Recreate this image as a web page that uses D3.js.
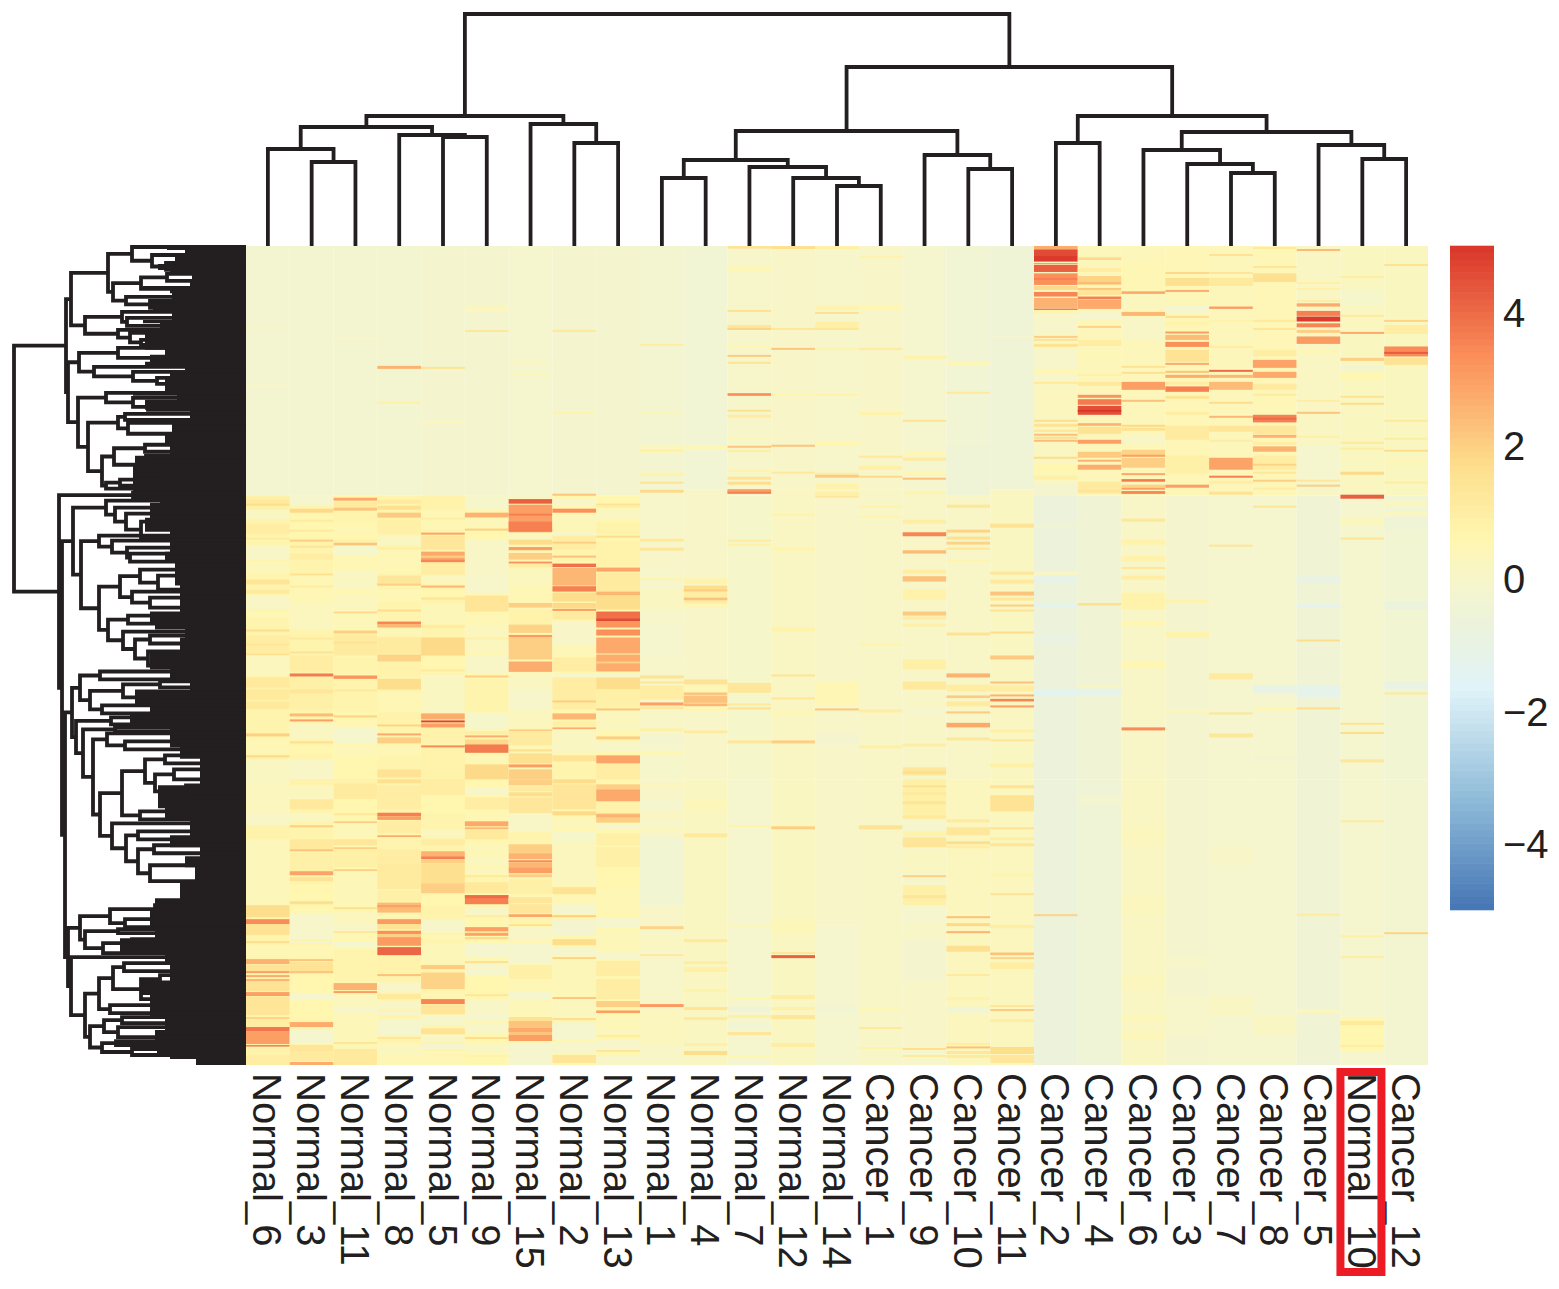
<!DOCTYPE html>
<html>
<head>
<meta charset="utf-8">
<script src="https://cdn.jsdelivr.net/npm/d3@7"></script>
<style>
body { margin: 0; background: #fff; }
text { font-family: "Liberation Sans", Arial, sans-serif; fill: #231f20; }
</style>
</head>
<body>
<svg id="chart" width="1559" height="1289"></svg>
<script>
const samples = ['Normal_6','Normal_3','Normal_11','Normal_8','Normal_5','Normal_9','Normal_15','Normal_2','Normal_13','Normal_1','Normal_4','Normal_7','Normal_12','Normal_14','Cancer_1','Cancer_9','Cancer_10','Cancer_11','Cancer_2','Cancer_4','Cancer_6','Cancer_3','Cancer_7','Cancer_8','Cancer_5','Normal_10','Cancer_12'];
const colorStops = [-5,-3.33,-1.67,-.7,0,.6,1.67,3.33,5];
const colorRange = ['#4575b4','#8fbbd9','#e0f3f8','#ecf3dc','#f7f6ca','#fff6b0','#fddf8e','#fb8f5a','#d9352a'];
const legendTicks = [-4,-2,0,2,4];
const rowCount = 410;
const highlighted = 'Normal_10';

// heat values per sample: [first row, last row, value], later bands paint over earlier ones
const n6 = [[0,125,-.25],[41,42,.1],[69,70,.1],[125,410,.7],[125,137,.9],[127,129.5,1.2],[129,130,1.7],[132,137,.2],[139,144,1],[146,147,1.1],[150,157,.1],[158,164,.4],[167,169.5,1.4],[172,174,1.2],[175,182,.1],[183,186,.5],[192,193,1.7],[195,204,1],[199,200,1.4],[204,205,1.6],[205,215,.3],[216,232,1.2],[221,222,.8],[227,228,.8],[232,242,.7],[244,245.5,2],[246,254,.5],[255,256,1.8],[257,268,.2],[268,290,.3],[284,290,.1],[290,297,.8],[297,330,.35],[330,336,1.7],[337,339.5,3.4],[339.5,345,1.5],[348,349,1.7],[350,356,.5],[357,359.5,2.6],[360,363,1.5],[363,364,3],[365,366,2.8],[367,368,2.6],[368,373,1.5],[373.5,375.5,3],[376,385,1.4],[386,387,1.9],[387,391,1],[391,393,3.8],[393,399.5,3],[400,400.8,3.6],[401,405,.8],[405,410,1]];
const n3 = [[0,125,-.25],[125,410,.7],[125,130,-.1],[131.5,133.5,1.8],[134,146,.6],[137,138,1.1],[142,143,1.1],[147,148,2],[150,151,1.4],[154,157,1],[164,165,1.6],[165,179,.5],[170,171,1],[179,192,.3],[192,202,.7],[196,197,1.2],[203,204,1.5],[205,213,1],[214,215.5,3.7],[216,232,.9],[222,224,1.3],[234,235.5,2.4],[237,238,3],[239,247,.2],[248,249,1.6],[250,254,.6],[257,267,.1],[267,270,.8],[270,277,.3],[277,282,1.2],[284,288,.2],[290,291,2],[292,297,.7],[297,302,1.2],[302,303,2.3],[304,313,.9],[313,315,2.9],[316,318,1.5],[320,328,.6],[328,329.5,1.6],[330,334,.6],[334,347,0],[348,349,-.2],[350,356,.5],[357,358,2.2],[358.5,364,1.5],[363,364,2.2],[365,374,.6],[374,377,-.1],[377,387,.6],[388.5,391,2.7],[392,399.5,-.1],[400,403,1.4],[403,408,1.1],[408.5,410,2.7]];
const n11 = [[0,125,-.25],[46,47,.1],[125,410,.6],[126,127.5,2.8],[128,131,1.1],[131,132.5,2.2],[133,138,.7],[140,144,.5],[147,148,.8],[148.5,150,2.2],[150,155,-.05],[155,161,.5],[162,172,.2],[174,183,.3],[183,184,1.8],[184,192,.4],[192.5,194,2],[194.5,205,1.1],[198,199,1.5],[206,214,.7],[215,216.7,3.2],[217,233,.7],[222,223,1.2],[235,236,1.9],[237,240,.5],[241,249,-.1],[250,255,.4],[256,266,.6],[267,269,.8],[269,277,1.1],[277,283,.6],[284,285,1.3],[288,289,2],[289,296,.4],[297,300,1.3],[301,302,2],[302,311,.9],[312,313,2],[313,330,.4],[331,332,1.6],[333,338,.3],[338.7,343,.1],[343,344,1.3],[344,347,.5],[348,351,-.1],[352,368,.7],[369,372.5,2.6],[373,374,3],[375,381,.3],[381,384.5,0],[385,398,.4],[398.5,399.5,1.4],[400,402,.5],[402,410,1.2]];
const n8 = [[0,125,-.25],[60,61.5,2.6],[78,79,.9],[125,410,.7],[127,129,1.1],[130,132,1.6],[133.5,136,2.1],[137,144,.9],[145,150,.2],[151,152,1],[152,164,.5],[165,170,1.3],[169,170,2],[172,178,.5],[182,183,1.7],[188,189.5,3.5],[189.5,191,2.5],[192,195,.4],[196,204,1.1],[204.5,208,1.9],[209,215,.8],[216.7,222,1.7],[223,233,.5],[234,239,.8],[239.5,240.5,1.9],[244,245,2.8],[246,249,2],[250,255,.5],[257,261,.7],[262,266,1.5],[267,269,1.6],[270,282,1],[283.7,285.5,3.6],[285.5,287.3,3],[288,294,1],[295,296,2.7],[296,301,.7],[302,309,1],[309,322,1.1],[323,328,.9],[328.7,333.7,2.4],[330,331,3],[334.5,336,.5],[337,339.5,3.1],[339.5,342,1.5],[342.8,344.5,3.3],[344.5,346,2],[346,350.3,3.1],[351,355,4.1],[356,364,.8],[364.5,365.5,2.3],[366,368,.7],[368.7,373.7,.05],[374.5,377,1.2],[378,382,.1],[383,385,-.2],[387,395,-.1],[396,397,1.3],[399,405,.3],[405,410,.5]];
const n5 = [[0,125,-.2],[60.5,61.5,1.5],[88,89,.4],[125,410,.7],[125,127,.8],[127,132,.8],[132,142,.5],[136,137,1],[143.5,144.5,2.9],[145,152,1.3],[153,158,2.8],[155,156,2],[157,158.3,3.5],[158.7,164.5,1],[165,169,.3],[170,171,2.5],[172,177,.6],[176,177,1.5],[179,189,.4],[190,191,1.2],[196,205,1.8],[205.3,213.7,.6],[212,213,1.2],[214.5,233.7,.2],[234,237,2.7],[237.5,238.5,4.7],[239,241,3],[242,248,.8],[250,251,3.4],[252,267,.8],[267,275,1],[275,284,.6],[284,291,.7],[292,296,.3],[297,300,1],[303,305.5,2.6],[305.5,307,3.6],[307,309,2],[309,319,1.6],[319,324,2],[325,330,.6],[331,335,.8],[337,343.7,0],[345,347,.5],[349,359,.4],[360,362,2.1],[363.7,372,1.9],[374,376,.5],[377,379.5,3.5],[380,384.5,1.4],[385,390,0],[391.7,394.5,1.5],[395,398,.1],[399.5,402,-.2],[403,410,.5]];
const n9 = [[0,125,-.2],[30,33,.3],[42,43,1.3],[125,410,.6],[125,132,-.05],[133.5,136,2.6],[136,141,.4],[141.5,142.5,2],[147,164,.1],[164,174,0],[175,183,1.4],[184,190,.5],[190,204,.3],[196,197,.9],[205,214,.1],[215,216,2],[217,233,.7],[233.7,242,-.05],[243,244.5,1],[245,246,2.7],[247,249.5,1.8],[249.5,253.7,3.7],[255,259,.5],[259.5,267,1.8],[271,275,.1],[276,282,1],[284,287,.5],[288,290.5,2.8],[291,292,2.5],[292,297,1.2],[299,304,.4],[305,310,.3],[311,314,.3],[315,316,1.2],[318.5,324,1.2],[325,329.5,3.6],[325,326.5,4],[331,335,.1],[335,336,1],[341,345.3,3],[343,344,1.5],[346,347,1.8],[349,356,-.1],[358,359,1.6],[359.5,365,0],[367,374,.6],[374.5,375.5,1.3],[377,384,.1],[384,388,0],[389.5,394,.1],[396,397,1.7],[399,404,.2],[405,406,.8]];
const n15 = [[0,125,-.15],[58,59,.3],[64,65,.4],[125,410,.5],[125,126.5,.1],[126.7,129,4.2],[129.5,143.3,3],[134,135,3.6],[138,143,3.6],[144.5,147,.2],[147,149.5,1.7],[150.7,152.3,3],[153.7,157,2],[158,159,3.3],[159,161,1],[162,170,.3],[172,178,.5],[178.7,181,2],[182,189,.8],[189.5,193.7,1.9],[194.7,196,3.1],[196,207,2],[208,213.2,2.7],[214.5,222,.2],[222,232,0],[232,241,.3],[242,243,2],[243,250,1.1],[252,253,1.7],[254,259,1.6],[259.5,261,3],[262,267,2],[267,270,2],[270,273,1.1],[273.5,275.5,1.7],[276,284,1.3],[284,293,.1],[293.5,299.5,.7],[299.5,304,2],[304,307,2.6],[307.5,308.5,3.4],[308.5,311,2.5],[311,314,3],[314.5,316,2],[317,324.5,.9],[326,329,1.3],[329.5,334,1.3],[334.5,336,2.8],[336,339,.7],[339.5,340.5,1.5],[341,347,.1],[349,359,-.1],[360,367,.9],[368.5,372,.5],[373.5,377,-.1],[378.5,385,.4],[386,389,1.5],[388,396,2.2],[391.5,393.5,2.8],[395,398,3],[399.5,410,-.1]];
const n2 = [[0,125,-.2],[42,43,1.2],[83,84,.7],[124,125.5,2.2],[125,410,.6],[127,130,0],[131.5,133.5,3.3],[134,142,.4],[143,145,0],[145,152,1],[148,149,2],[152,158,.7],[155,156,2.3],[159,160.7,3.9],[161,170,2.5],[170.3,173,3.6],[173.5,178,1.7],[178.7,181.5,1.8],[181.7,182.7,3],[183,187,1.1],[188,200,.05],[201,205,.4],[206,213,1],[214,216,0],[216,232,1],[227.5,228.5,2],[234,237,2.5],[238,240.5,.9],[241,242,2.7],[242,254,.2],[255,258,1.5],[259.5,267,.7],[267,269,1.7],[269.5,282,1.4],[283,285,1.8],[286,292,.4],[293,298,-.05],[298.5,320,.3],[321,324.5,1.5],[325,329,.5],[329.5,334.5,-.1],[335,336,2],[337,345,-.2],[347,350,1.7],[351,355.5,-.1],[356,357,1.9],[357,375,.4],[376,377,2.2],[377,386,.3],[386.5,387.5,1.7],[388.7,397,-.15],[398.5,404,0],[405,409,1.4]];
const n13 = [[0,125,-.2],[125,410,.6],[129,130,1.7],[129.5,131,1],[132,137,.2],[138.5,144,.8],[145,146,1.7],[148,161,.8],[161,163,2.9],[163.5,173,1.1],[173,175,2.5],[175,182,1.7],[183,187,3.9],[186.5,188,4.6],[188,191,3.2],[192,195,3.3],[196,204,2.8],[204.5,213,2.7],[208,209,2],[214,216,0],[216,222,1.7],[222,231,.9],[231.5,232.5,2.2],[233,243,.3],[245.5,247,2],[248,253,.1],[255,259,2.9],[259.5,267,1],[269.5,272,2],[272,278,2.8],[278.5,284,.8],[284,288.7,2],[284.5,286,2.6],[289.5,292,0],[294,300,.9],[301,311,.9],[311,320,.6],[322,334,.5],[336,341,-.15],[342,352,.4],[353,357,0],[358,365.5,1],[367,377,1],[378,381,2],[382.7,384,3],[385,390,.4],[391,394,.3],[395,396,1],[397,402,0],[402.5,403.5,1.3],[405,410,.1]];
const n1 = [[0,122,-.25],[49,50,1],[83,84,.4],[100,104,.3],[102,103,.9],[113.5,115,.8],[118,119,1.5],[122,267,0],[122,123.5,1.8],[146.5,148,1.2],[151,152.5,1.4],[155,162,.05],[166,167,.7],[172,182,.2],[189,205,-.1],[207,214,0],[215,216.5,1.5],[218,219,1.4],[220,227,1],[228.5,230,3],[230.5,232,1.3],[232,240,.1],[241.5,243,.9],[245,250,-.2],[253,254.5,.6],[255,267,-.05],[267,410,.05],[270,271,.5],[277,282,-.15],[284,286,.3],[292,293,.4],[296,330,-.3],[340.5,342,1.9],[345,352,.2],[354.5,355.5,1.2],[357,374,0],[379.5,381,3.1],[382,400,.3],[402,410,.1]];
const n4 = [[0,122,-.35],[100,102,.5],[122,267,.05],[166.5,169,.8],[170,173,1.7],[172,173,2.1],[173,176,1],[176,177.5,2.3],[177.5,179,1],[179,181,.5],[217,219.5,1.5],[220,223,.5],[223.5,225,2.2],[225.3,228.7,2.3],[229,230.5,2.5],[230.5,233,.5],[242.5,244,1.1],[267,410,.2],[277,283,.35],[294,296,1.2],[347,348.5,1.2],[358,359.5,1],[361,363.5,.9],[372,373.5,.8],[381,382.5,1.4],[386,387.5,1.2],[399,400.5,.9],[403,405,1.7]];
const n7 = [[0,125,0],[0,1.3,1.5],[10,13,.4],[32,33,1.6],[39.5,42,1.3],[41,42,1.9],[50,51,.6],[54.5,55.5,2.1],[58,59,1.4],[73.7,75,3.4],[82,83,1.6],[84.5,86,1],[96,97,.5],[100,101,2.2],[102,103,1],[112,113,.8],[115.5,117,1.5],[118,119.5,1.7],[121.7,123,2.7],[122,124,3],[123,124,3.6],[125,267,-.05],[147,148,1.1],[149,150,.9],[218.7,223.7,1.3],[229,230,1.2],[231,232,1.6],[247.5,249,1.3],[267,410,-.15],[290,291,.7],[340,341,.4],[376,377,.6],[381,383,-.5],[385,386.5,.9],[389,392,-.3],[393.5,395,1.4],[405,406,.6]];
const n12 = [[0,122,.05],[0,1.5,1.6],[41,42,1.3],[51,52,2.2],[74,75,.6],[99.5,100.5,2.2],[113,114,1.2],[122,267,.15],[134,135,.8],[151,152.5,.7],[191,193,.8],[214.5,215.5,1.5],[226,227,1.4],[233,234.5,.6],[247.5,249,2],[267,410,.2],[290.5,292,2],[337,344,.4],[353.5,354.5,1.4],[355,356.5,4.2],[375,377,1],[381,382.5,.9],[385,387,1.4],[399,401,1]];
const n14 = [[0,122,0],[0,1.5,.9],[30,32,.8],[33,34,1.6],[38,42,.9],[41,42,1.4],[51,52,.7],[74,75,.8],[98,100,.6],[113.5,114.5,1],[114.5,116,2.1],[119,122,.8],[122,267,.05],[123,125,.9],[125,126,1.3],[218,230,.5],[231.5,232.5,2.2],[244,250,-.2],[267,340,.05],[340,410,-.1],[380,384,-.3]];
const c1 = [[0,122,.05],[5,6,.8],[30,32,.6],[51,52,1.1],[83,84.5,.8],[105,106,1.2],[110,112,.9],[115,116,1.8],[122,267,.1],[130,131,.8],[135,136,.7],[199,200,.7],[232,233.5,1],[250,251.5,.9],[267,410,.1],[290,292,1.5],[381,382.5,.6],[391,392,1.2],[401,402,.8]];
const c9 = [[0,122,-.15],[55,56.5,.8],[87,88,1.5],[103,105,.5],[106,107.5,1.1],[113,114.5,.6],[116,117,2.3],[122,267,.1],[123,124,.7],[137,139,1],[143.3,145.3,3.5],[152.3,154,2.4],[162,164,1],[165.3,168,2.3],[172,177,.8],[183,185,2.1],[185.5,187,1.1],[189,190.5,.9],[207,212,.9],[218,222,1.2],[232,235,-.1],[249,250.5,1],[261,265,1.3],[263,264,1.7],[267,410,0],[267,287,.9],[270,271,1.6],[273.5,275,1.2],[278,279.5,1.4],[285,286.5,1.2],[287,292,-.1],[293,295.5,.8],[296,301,1.4],[302,314,.2],[315,316,2],[320,330,.9],[325,326.5,1.4],[331,339,-.15],[339,347,.1],[347,367,-.2],[367,401,.05],[401.5,402.5,1.6],[405,406,1.1]];
const c10 = [[0,122,-.35],[58,59.5,.5],[73,74,1.2],[100,125,-.5],[125,126,.8],[125,267,.1],[129.5,131,1.3],[142,143.5,1.9],[145.5,147,1.6],[148,149.5,1.9],[151,152,1.4],[157,158,.7],[193.5,195,1.5],[214,216,2.6],[219.5,223,1],[225,226.3,2.1],[228,230.5,1.1],[233,234,2.1],[238.7,241,2.8],[246,247.5,1.3],[267,410,.3],[287,288.5,1.1],[291,295,1.3],[298,299.5,1.7],[300,301.5,1],[335.5,336.5,2.3],[339,340.5,1.8],[343,344,2.6],[350.3,353.3,1.6],[364.5,365.5,1.2],[376,377.5,.8],[381,384,-.3],[399,400,1],[400.7,401.7,2.3],[403,404.5,1.3],[405,406.5,1.1]];
const c11 = [[0,122,-.45],[45,46,-.1],[122,267,.2],[139,141,1.5],[163,164.5,1.3],[167,169,1.2],[173,175,2.2],[176,177.5,1.3],[179.5,180.5,2],[182,183,1.5],[193,194,1.7],[205,207,2.1],[218,219,2.3],[220,223,1],[224.5,225.5,2.6],[226.7,228,3.5],[230,231,3],[242,243.5,.9],[247,248,1.4],[259,261,.9],[267,410,.3],[270,271.5,1.5],[275,283,1.5],[291,292,1.5],[296,297.5,1],[299,300.5,1.4],[314,315.5,.7],[324,325,1.5],[340,341.5,1],[353.7,355,2.3],[356,357,1.9],[358.5,362,1],[380,381,1.3],[382,383,2.1],[387,388.5,1],[401,404.5,1.7],[405,409,1.3]];
const c2 = [[0,125,.2],[0,1.7,2.7],[1.7,5,4.6],[5,7.8,4.9],[8.5,9.2,3],[9.5,13,4.2],[13.7,19.5,3.3],[16,17,3.6],[20,22,1.8],[23,25.3,3.5],[26,31,2.6],[31.3,32,4],[32,34,.7],[34,44,0],[45,46,2],[46.5,47.5,1.5],[49,50.5,1.5],[52,62,0],[62,64,.6],[64,67,0],[68,69,1.2],[72,85,.3],[87,88,1.7],[89,90.5,1.5],[92,93,1.4],[94,95,2.3],[95.5,96.5,1.7],[97,98,2.4],[99,104,.2],[105.5,106.5,1.7],[109,114,.6],[115,117,.9],[119,125,-.2],[125,267,-.65],[139,141,-.4],[163,165,.1],[165,169,-1],[179,181,-1.3],[194,199,-.9],[222,225,-1.4],[267,410,-.65],[334.5,335.5,1.9]];
const c4 = [[0,125,.35],[5.7,7,1.8],[11,13,1],[15,19.5,1.9],[18,19,2.4],[21,22,2.2],[22,24.5,1.4],[25.3,26.7,3.6],[27,31.5,2.8],[33,37,-.1],[40,41,1.9],[47,50,1],[53,55,.5],[58,59,.5],[64,65,.9],[68,70,1.2],[74.5,76,3.2],[76.7,79.5,3.7],[80,84.5,4.5],[82,83,5],[88.7,90,2.6],[90.5,94,1.5],[97,99,3],[100,101.5,.4],[103,106,2.1],[107,108,2.6],[109.5,112,2.7],[118,124,1.1],[125,267,-.4],[122,123,1.5],[178.7,180,1.6],[220,221,.2],[222,225,-1.3],[267,410,-.45],[275,280,-.25]];
const c6 = [[0,125,.35],[8,23,.5],[22.7,24,2.8],[24,32,.3],[33,35,2.5],[36,47,.1],[60,61,1.5],[63,64,1.6],[68,72,3],[77,78,2.3],[89.5,90.5,1.8],[91,92.5,1.6],[95,99,.1],[102,105.3,1.9],[104.5,105.5,3],[106,111,2],[113.7,114.7,2.8],[116.7,118,3.7],[119.5,121,1.9],[121,122,3],[123,124,3.2],[125,267,.1],[122.7,124,3.5],[136.5,138,1.3],[147,149.5,.8],[155,158,.8],[160.7,161.7,1.3],[165,167,1],[173.5,182,.8],[188,190,.6],[208,211,.6],[241,242.5,3.4],[267,410,.15],[290,300,.3],[325,335,.3],[365,372,.3],[385,388,.4],[393,397,.35]];
const c3 = [[0,125,.45],[13,14,1.8],[16,20,1.6],[22,23,2.7],[24.5,30,.4],[30,34,-.1],[35,36,1.7],[38,39.5,.8],[42.8,43.8,3],[44.5,47,2.4],[48,50.5,3.3],[52,58,1.5],[58.5,59.5,2.8],[62.5,63.5,2.2],[64.5,66,2.7],[68,69.5,1],[70.3,73,3.6],[75,76.5,1.5],[83,84.5,1],[90,97,1.1],[105,114,.9],[119.5,121,3],[125,267,-.2],[177,178.5,.8],[193,196,.8],[232,234,.3],[267,410,-.2],[355,362,0],[375,395,0]];
const c7 = [[0,125,.35],[4,5,1.5],[13,14,1.4],[16,20,1.2],[30.3,31.5,3],[37,38,.8],[50,51,1],[62,63,4],[64.5,66,2.5],[68,72,2.4],[78,79,1.7],[85,86,2.5],[90,93,1.4],[97,98,1],[106,112,2.9],[115,116,3.6],[117.5,119,1],[123,124,1.1],[125,267,-.15],[123,124.5,1.5],[149.5,150.5,1.4],[214,217,1.1],[233.5,234.5,1.4],[244,246,1.3],[267,410,-.1],[300,310,.05],[375,385,.15]];
const c8 = [[0,125,.45],[0.5,1.5,1.2],[10,11,1.4],[13.7,18,1.6],[37,38,1.2],[41,42,1.4],[52,55,1],[57,61,2.9],[63,66,2.8],[69,72,1.1],[74,75,1.1],[84.5,88.3,3.6],[86,87,4],[90,94,1.3],[94.5,96,2.6],[98,99.5,1],[100.3,103,2.6],[105,112,1],[109,110,1.9],[113,114,1.3],[117,118,2],[121,122,1],[125,267,-.1],[130,131,1.4],[220,224,-1],[231,232.5,.6],[255,258,-.25],[267,410,-.1],[385,395,.15]];
const c5 = [[0,125,.15],[1.5,2.5,2.4],[18,19,.9],[21,22,.9],[27,28,1],[28.7,30.3,2.8],[32.5,35,3.6],[35.3,37.8,4.9],[38.7,40.7,3.5],[42,43.5,2],[45.3,49,3.1],[52,53.5,.5],[77,78,1],[83,84,2.2],[95,96,.9],[100,122,-.1],[117,118,1.3],[119.5,120.5,2],[125,267,-.4],[165,169,-.9],[179,181,-1.1],[197,198,1.7],[220,226,-1.2],[231,232,1.7],[267,410,-.4],[334,335.5,1],[382,384,.3]];
const n10 = [[0,125,.25],[15,16,1],[22,30,-.05],[34.5,35.5,1.2],[43,44,2.8],[56,57.5,2],[60,62,-.3],[64,67,.6],[75,76,1.5],[78.5,79.5,1.7],[98,99,1.2],[101,102,1],[113,114.5,1.8],[125,267,-.1],[124.5,126.5,4.2],[136,140,.3],[146,147,1.4],[238.7,239.7,1.5],[243.3,244.3,1.7],[257,258.5,1.4],[267,410,-.15],[287.5,288.5,1.1],[345,346,.9],[355.5,356.5,1],[386,403,.6],[388,390,1.2],[400,401,1]];
const c12 = [[0,125,.25],[9,10,1.5],[37,38,1.9],[39.5,44,1],[50.3,55.3,3.4],[53,54,4.3],[56,59.5,1.5],[87,88,1.2],[96,97,1],[102,103,1.7],[107,110,.4],[118,119,1],[125,267,-.3],[128,130,.3],[133,135,.2],[136,142,-.5],[178,182,-.7],[218,222,-.9],[223.5,224.5,1.2],[267,410,-.25],[343.5,344.5,1.9]];
const sampleBands = [n6,n3,n11,n8,n5,n9,n15,n2,n13,n1,n4,n7,n12,n14,c1,c9,c10,c11,c2,c4,c6,c3,c7,c8,c5,n10,c12];

// column tree: [name, distance, left, right], numbers are sample positions
const colRoot = 'root';
const colMerges = [
  ['root',232,'normals','rest'],
  ['normals',130,'nA','nB'],
  ['nA',119,'nA1','nA2'],
  ['nA1',97,0,'nA11'],
  ['nA11',84,1,2],
  ['nA2',111,3,'nA21'],
  ['nA21',109,4,5],
  ['nB',122,6,'nB1'],
  ['nB1',103,7,8],
  ['rest',179,'mid','can'],
  ['mid',115,'m1','m2'],
  ['m1',86,'m11','m12'],
  ['m11',68,9,10],
  ['m12',79,11,'m121'],
  ['m121',68,12,'m122'],
  ['m122',60,13,14],
  ['m2',91,15,'m21'],
  ['m21',77,16,17],
  ['can',130,'c1','c2'],
  ['c1',103,18,19],
  ['c2',114,'c21','c22'],
  ['c21',96,20,'c211'],
  ['c211',82,21,'c212'],
  ['c212',73,22,23],
  ['c22',101,24,'c221'],
  ['c221',87,25,26]
];

// row tree: [name, distance, top, bottom], numbers are row positions
const rowRoot = 'root';
const rowMerges = [
  ['root',232,'U','L'],
  ['U',180,'U1','U2'],
  ['U1',175,'U1a','U1b'],
  ['U1a',138,'a1','a2'],
  ['a1',114,.5,'a11'],['a11',94,4.5,'a111'],['a111',80,8.5,12],
  ['a2',133,'b1','b2'],
  ['b1',105,'b11',21.5],['b11',79,14,17.5],
  ['b2',120,25.5,'b21'],['b21',96,27.5,31],
  ['U1b',161,'c1','c2'],
  ['c1',124,33,'c11'],['c11',119,36,40],
  ['c2',128,42,'c21'],['c21',116,43.5,'c22'],['c22',105,47,49.5],
  ['U2',178,'e1','e2'],
  ['e1',167,'f1','f2'],
  ['f1',128,51,56],
  ['f2',152,60.5,'f21'],['f21',113,63,'f22'],['f22',89,66,69],
  ['e2',168,'h1','h2'],
  ['h1',140,73.5,'h11'],['h11',113,76,'h12'],['h12',98,79,82],
  ['h2',158,'i1','i2'],
  ['i1',128,'i11','i12'],['i11',121,84,87],['i12',118,88.5,94],
  ['i2',144,'j1','j2'],
  ['j1',132,'j11','j12'],['j11',101,99.5,103],['j12',109,'j13','j14'],['j13',100,105,108],['j14',85,110,115],
  ['j2',140,'j21',121.5],['j21',126,117,120],
  ['L',187,'L0','L2'],
  ['L0',113,123.5,126],
  ['L2',184,'N','L3'],
  ['N',173,'n1','n2'],
  ['n1',140,127.5,'n11'],['n11',131,131,'n12'],['n12',120,134,'n13'],['n13',105,138,146],
  ['n2',165,'p1','p2'],
  ['p1',147,145,'p11'],['p11',134,147.5,'p12'],['p12',119,151,'p13'],['p13',116,154,158],
  ['p2',147,'q1','q2'],
  ['q1',126,'q11','q13'],['q11',106,162,'q12'],['q12',88,165,172],['q13',114,173,'q14'],['q14',96,176,181],
  ['q2',138,'q21','q22'],['q21',118,185,189],['q22',123,193,'q23'],['q23',111,'q24','q25'],['q24',96,195,199],['q25',98,203,210],
  ['L3',181,'r1','r2'],
  ['r1',174,'s1','s2'],
  ['s1',166,'s11','s12'],['s11',146,213,217],['s12',156,'t1','t2'],['t1',123,'t11','t12'],['t11',86,218,221],['t12',90,224,228],['t2',144,230,234],
  ['s2',170,'u1','u2'],['u1',135,236,239.5],
  ['u2',163,'v1','v2'],['v1',131,241,243],
  ['v2',153,'w1','w2'],['w1',139,244,'w11'],['w11',121,248,252],
  ['w2',146,'z1','z2'],
  ['z1',124,'x1','x2'],['x1',101,'x11','x12'],['x11',81,255,259],['x12',91,'x13','x14'],['x13',72,262,267],['x14',60,270,276],['x2',106,283,287],
  ['z2',134,289,'z3'],['z3',120,'z4','z5'],['z4',108,293,297],['z5',108,'z6','z7'],['z6',92,300,304],['z7',96,310,318],
  ['r2',178,'ee','ff'],
  ['ee',166,'e3','e4'],['e3',136,'e31','e32'],['e31',91,330,334],['e32',121,337,341],
  ['e4',161,'e41','e42'],['e41',128,342,344],['e42',143,'e43',354],['e43',114,347,351],
  ['ff',175,356,'gh'],['gh',161,'gg','hh'],
  ['gg',147,'ii','jj'],['ii',133,'i3','i4'],['i3',122,359,363],['i4',105,'i5',377],['i5',86,365,369],['jj',136,380,384],
  ['hh',156,'kk','ll'],['kk',142,'k1','k2'],['k1',124,386,389],['k2',128,391,396],
  ['ll',144,'l1','l2'],['l1',130,398,400],['l2',114,402,405]
];

// left edge of the solid leaf mass: [row, distance]
const leafEdge = [[0,89],[2,79],[3.7,61],[8,71],[9,66],[12,88],[13.7,76],[18,54],[20,56],[21.7,103],[23.7,76],[28,74],[31,96],[33,93],[37,74],[38.7,103],[44,86],[48,101],[52,101],[54.5,81],[58,96],[61,101],[63,61],[66,76],[71,81],[73,81],[75,113],[77,69],[82,101],[88,56],[94,74],[99,81],[105,76],[110,111],[125.6,113],[128.5,86],[136,96],[143,101],[153,76],[158,81],[170,71],[183,66],[189,96],[192,91],[196,61],[203,66],[212,96],[216.5,76],[222,56],[230,111],[234.7,96],[239.5,116],[251,76],[256.7,66],[260.5,46],[270,46],[281.5,88],[287,81],[295,56],[301,76],[305.5,46],[311,61],[318,51],[326.5,66],[332,91],[342,96],[346.6,91],[354,126],[359,81],[367.7,76],[375,106],[386,96],[392.5,81],[399,91],[404,89],[407,76],[409,50],[410,50]];

const heatLeft = 246, heatRight = 1428, heatTop = 246, heatBottom = 1065;
const svg = d3.select('#chart');

const color = d3.scaleLinear().domain(colorStops).range(colorRange).clamp(true);
const xCol = d3.scaleBand().domain(samples).range([heatLeft, heatRight]);
const yRow = d3.scaleLinear().domain([0, rowCount]).range([heatTop, heatBottom]);
const colHeight = d3.scaleLinear().domain([0, 232]).range([heatTop, 14]);
const rowDepth = d3.scaleLinear().domain([0, 232]).range([heatLeft, 14]);
const legendY = d3.scaleLinear().domain([-5, 5]).range([910, 246]);

// heat bands
svg.append('g').selectAll('g').data(samples).join('g')
  .selectAll('rect').data((s, i) => sampleBands[i].map(b => ({ s, b }))).join('rect')
  .attr('x', d => xCol(d.s))
  .attr('width', xCol.bandwidth())
  .attr('y', d => yRow(d.b[0]))
  .attr('height', d => yRow(d.b[1]) - yRow(d.b[0]))
  .attr('fill', d => color(d.b[2]));

// solid leaf mass of the row tree
const mass = d3.area().curve(d3.curveStepAfter)
  .y(d => yRow(d[0])).x0(d => rowDepth(d[1])).x1(heatLeft);
svg.append('path').datum(leafEdge).attr('d', mass).attr('fill', '#231f20');

// walks a merge table and returns one bracket per merge
function brackets(merges, root, leafPos) {
  const byName = new Map(merges.map(m => [m[0], m]));
  const out = [];
  function walk(node) {
    if (!byName.has(node)) return { pos: leafPos(node), h: 0 };
    const m = byName.get(node);
    const a = walk(m[2]), b = walk(m[3]);
    out.push([[a.pos, a.h], [a.pos, m[1]], [b.pos, m[1]], [b.pos, b.h]]);
    return { pos: (a.pos + b.pos) / 2, h: m[1] };
  }
  walk(root);
  return out;
}

const colLine = d3.line().x(d => d[0]).y(d => colHeight(d[1]));
svg.append('g').selectAll('path')
  .data(brackets(colMerges, colRoot, i => xCol(samples[i]) + xCol.bandwidth() / 2))
  .join('path').attr('d', colLine)
  .attr('fill', 'none').attr('stroke', '#231f20').attr('stroke-width', 3.8);

const rowLine = d3.line().x(d => rowDepth(d[1])).y(d => yRow(d[0]));
svg.append('g').selectAll('path')
  .data(brackets(rowMerges, rowRoot, r => r))
  .join('path').attr('d', rowLine)
  .attr('fill', 'none').attr('stroke', '#231f20').attr('stroke-width', 3.8);

// sample labels, rotated to read downwards
const labelAxis = svg.append('g').attr('transform', `translate(0,${heatBottom})`)
  .call(d3.axisBottom(xCol).tickSize(0).tickPadding(0));
labelAxis.select('.domain').remove();
labelAxis.selectAll('text')
  .attr('font-size', 40).attr('font-family', '"Liberation Sans"').attr('fill', '#231f20')
  .attr('text-anchor', 'start').attr('dy', null).attr('y', null)
  .attr('transform', 'translate(-14.5,8) rotate(90)');

// outline round the highlighted label
svg.append('rect')
  .attr('x', xCol(highlighted))
  .attr('y', heatBottom + 7)
  .attr('width', 41).attr('height', 200)
  .attr('fill', 'none').attr('stroke', '#ed1c24').attr('stroke-width', 8);

// colour key
svg.append('g').selectAll('rect').data(d3.range(100)).join('rect')
  .attr('x', 1450).attr('width', 44)
  .attr('y', i => legendY(-5 + (i + 1) / 10) - .3)
  .attr('height', i => legendY(-5) - legendY(-5 + 1 / 10) + .6)
  .attr('fill', i => color(-5 + (i + .5) / 10));
const legendAxis = svg.append('g').attr('transform', 'translate(1494,1.5)')
  .call(d3.axisRight(legendY).tickValues(legendTicks).tickSize(0).tickPadding(9)
    .tickFormat(d => String(d).replace('-', '\u2212')));
legendAxis.select('.domain').remove();
legendAxis.selectAll('text').attr('font-size', 40).attr('font-family', '"Liberation Sans"').attr('fill', '#231f20');
</script>
</body>
</html>
